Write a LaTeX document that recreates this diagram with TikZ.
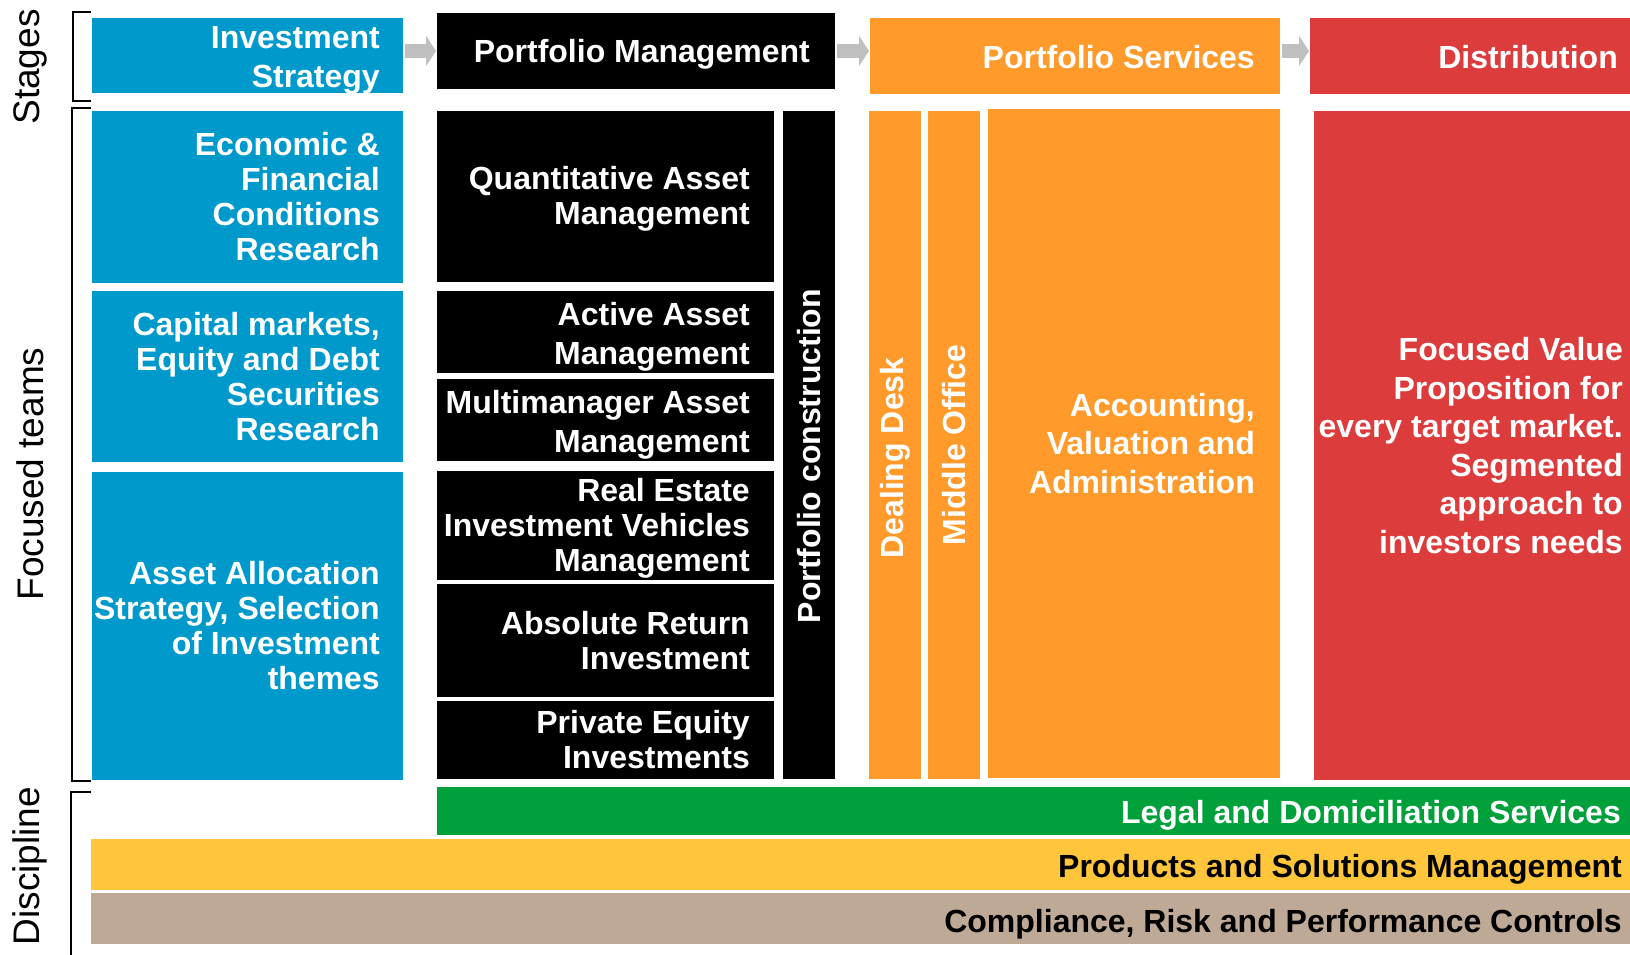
\documentclass[tikz,border=0pt]{standalone}
\usepackage{fontspec}
\setmainfont{Liberation Sans}
\usepackage[]{xcolor}
\usetikzlibrary{arrows.meta, positioning, calc}
\definecolor{stratblue}{HTML}{0099CC}
\definecolor{servorange}{HTML}{FF9A2B}
\definecolor{distred}{HTML}{DC3C3C}
\definecolor{legalgreen}{HTML}{00A03A}
\definecolor{prodyellow}{HTML}{FFC63C}
\definecolor{compltan}{HTML}{BEA896}
\definecolor{arrowgrey}{HTML}{C0C0C0}
\tikzset{
		block/.style={anchor=north west, inner sep=0pt, outer sep=0pt},
		boxtext/.style={align=right, inner sep=0pt, text=white, font=\bfseries\fontsize{32}{35}\selectfont},
		loosetext/.style={boxtext, font=\bfseries\fontsize{32}{38.5}\selectfont},
		vtext/.style={rotate=90, inner sep=0pt, text=white, font=\bfseries\fontsize{32}{35}\selectfont},
		sidetext/.style={rotate=90, inner sep=0pt, font=\fontsize{37}{40}\selectfont},
		bracket/.style={line width=2pt},
		stagearrow/.style={draw=arrowgrey, line width=14pt, -{Triangle[width=30pt, length=10pt]}, shorten <=2pt, shorten >=1pt}
	}
\begin{document}
\begin{tikzpicture}[x=1pt, y=-1pt]
				\useasboundingbox (0,0) rectangle (1630,955);

				% stages
				\node[block, fill=stratblue, minimum width=311pt, minimum height=75pt] (strat) at (92,18) {};
				\node[loosetext, left=23pt of strat.east, yshift=-5pt] (strat-t) {Investment\\Strategy};
				\node[block, fill=black, minimum width=398pt, minimum height=76pt] (pm) at (437,13) {};
				\node[boxtext, left=25pt of pm.east, yshift=-3pt] (pm-t) {Portfolio Management};
				\node[block, fill=servorange, minimum width=410pt, minimum height=76pt] (ps) at (870,18) {};
				\node[boxtext, left=25pt of ps.east, yshift=-1pt] (ps-t) {Portfolio Services};
				\node[block, fill=distred, minimum width=320pt, minimum height=76pt] (dist) at (1310,18) {};
				\node[boxtext, left=12pt of dist.east, yshift=-1pt] (dist-t) {Distribution};

				\draw[stagearrow] (strat.east |- pm.west) -- (pm.west);
				\draw[stagearrow] (pm.east) -- (ps.west |- pm.east);
				\draw[stagearrow] (ps.east |- pm.east) -- (dist.west |- pm.east);

				% focused teams
				\node[block, fill=stratblue, minimum width=311pt, minimum height=172pt] (econ) at (92,111) {};
				\node[boxtext, left=23pt of econ.east] (econ-t) {Economic \&\\Financial\\Conditions\\Research};
				\node[block, fill=stratblue, minimum width=311pt, minimum height=171pt] (capital) at (92,291) {};
				\node[boxtext, left=23pt of capital.east] (capital-t) {Capital markets,\\Equity and Debt\\Securities\\Research};
				\node[block, fill=stratblue, minimum width=311pt, minimum height=308pt] (alloc) at (92,472) {};
				\node[boxtext, left=23pt of alloc.east] (alloc-t) {Asset Allocation\\Strategy, Selection\\of Investment\\themes};

				\node[block, fill=black, minimum width=337pt, minimum height=171pt] (quant) at (437,111) {};
				\node[boxtext, left=24pt of quant.east, yshift=-2pt] (quant-t) {Quantitative Asset\\Management};
				\node[block, fill=black, minimum width=337pt, minimum height=82pt] (active) at (437,291) {};
				\node[loosetext, left=24pt of active.east, yshift=-5pt] (active-t) {Active Asset\\Management};
				\node[block, fill=black, minimum width=337pt, minimum height=82pt] (multi) at (437,379) {};
				\node[loosetext, left=24pt of multi.east, yshift=-5pt] (multi-t) {Multimanager Asset\\Management};
				\node[block, fill=black, minimum width=337pt, minimum height=109pt] (reit) at (437,471) {};
				\node[boxtext, left=24pt of reit.east, yshift=-3pt] (reit-t) {Real Estate\\Investment Vehicles\\Management};
				\node[block, fill=black, minimum width=337pt, minimum height=113pt] (absret) at (437,584) {};
				\node[boxtext, left=24pt of absret.east] (absret-t) {Absolute Return\\Investment};
				\node[block, fill=black, minimum width=337pt, minimum height=78pt] (pe) at (437,701) {};
				\node[boxtext, left=24pt of pe.east] (pe-t) {Private Equity\\Investments};
				\node[block, fill=black, minimum width=52pt, minimum height=668pt] (pc) at (783,111) {};
				\node[vtext] (pc-t) at ($(pc.center)+(0,11)$) {Portfolio construction};

				\node[block, fill=servorange, minimum width=52pt, minimum height=668pt] (dd) at (869,111) {};
				\node[vtext] (dd-t) at ($(dd.center)+(0,13)$) {Dealing Desk};
				\node[block, fill=servorange, minimum width=52pt, minimum height=668pt] (mo) at (928,111) {};
				\node[vtext] (mo-t) at ($(mo.center)+(0,0)$) {Middle Office};
				\node[block, fill=servorange, minimum width=292pt, minimum height=669pt] (acc) at (988,109) {};
				\node[loosetext, left=25pt of acc.east] (acc-t) {Accounting,\\Valuation and\\Administration};

				\node[block, fill=distred, minimum width=316pt, minimum height=669pt] (value) at (1314,111) {};
				\node[loosetext, left=7pt of value.east] (value-t) {Focused Value\\Proposition for\\every target market.\\Segmented\\approach to\\investors needs};

				% discipline
				\node[block, fill=legalgreen, minimum width=1193pt, minimum height=48pt] (legal) at (437,787) {};
				\node[boxtext, left=9pt of legal.east, yshift=-4pt] (legal-t) {Legal and Domiciliation Services};
				\node[block, fill=prodyellow, minimum width=1539pt, minimum height=51pt] (prod) at (91,839) {};
				\node[boxtext, text=black, left=8pt of prod.east, yshift=-5pt] (prod-t) {Products and Solutions Management};
				\node[block, fill=compltan, minimum width=1539pt, minimum height=51pt] (compl) at (91,893) {};
				\node[boxtext, text=black, left=8pt of compl.east, yshift=-6pt] (compl-t) {Compliance, Risk and Performance Controls};

				% side brackets
				\draw[bracket] (91,12) -- (73,12) -- (73,101) -- (91,101);
				\draw[bracket] (91,108) -- (72,108) -- (72,781) -- (91,781);
				\draw[bracket] (91,792) -- (71,792) -- (71,955);
				\node[sidetext] (stages) at (30,67) {Stages};
				\node[sidetext] (teams) at (30,474) {Focused teams};
				\node[sidetext] (discipline) at (30,866) {Discipline};
			\end{tikzpicture}
\end{document}
